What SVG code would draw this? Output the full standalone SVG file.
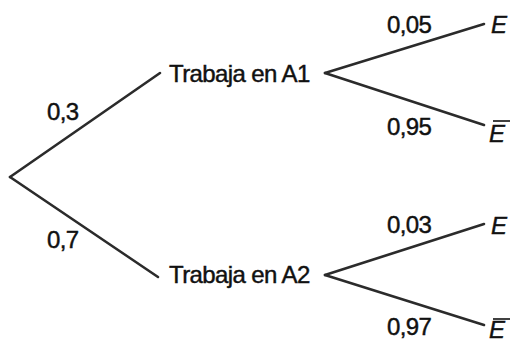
<svg xmlns="http://www.w3.org/2000/svg" width="511" height="340" viewBox="0 0 511 340">
<style>
.l{stroke:#2b2b2b;stroke-width:2.6;fill:none;stroke-linecap:round}
text{font-family:"Liberation Sans",Arial,sans-serif;font-size:24px;fill:#111;stroke:#111;stroke-width:0.45;letter-spacing:-0.6px}
.e{font-style:italic;letter-spacing:0}
.bar{stroke:#111;stroke-width:1.6}
</style>
<g id="connectors">
<path class="l" d="M10,177 L160,73"/>
<path class="l" d="M10,177 L158,277"/>
<path class="l" d="M325,73 L484,24"/>
<path class="l" d="M325,73 L484,125"/>
<path class="l" d="M325,275 L484,224"/>
<path class="l" d="M325,275 L484,325"/>
</g>
<g id="labels">
<text x="47" y="120">0,3</text>
<text x="47" y="248">0,7</text>
<text x="387" y="33">0,05</text>
<text x="387" y="135">0,95</text>
<text x="387" y="233">0,03</text>
<text x="387" y="335">0,97</text>
</g>
<g id="a1"><text x="169" y="82">Trabaja en A1</text></g>
<g id="a2"><text x="169" y="283">Trabaja en A2</text></g>
<g id="e1"><text class="e" x="491" y="33">E</text></g>
<g id="e1n"><line class="bar" x1="493" y1="121" x2="510" y2="121"/><text class="e" x="489" y="142">E</text></g>
<g id="e2"><text class="e" x="491" y="234">E</text></g>
<g id="e2n"><line class="bar" x1="493" y1="319" x2="510" y2="319"/><text class="e" x="489" y="338">E</text></g>
</svg>
